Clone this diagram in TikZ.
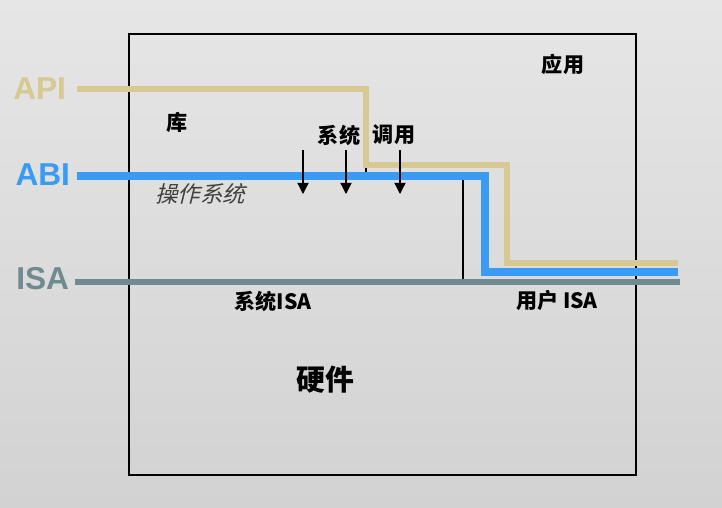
\documentclass[tikz,border=0pt]{standalone}
\usepackage{fontspec}
\setmainfont{Liberation Sans}
\newfontfamily\cjk{Noto Sans CJK SC}
\newfontfamily\cjkslant[FakeSlant=0.25]{Noto Sans CJK SC}
\usetikzlibrary{arrows.meta,positioning}
\definecolor{apicol}{HTML}{D8C892}
\definecolor{abicol}{HTML}{3A9BF5}
\definecolor{isacol}{HTML}{6F8A90}
\definecolor{bgtop}{HTML}{E6E6E6}
\definecolor{bgbot}{HTML}{D2D2D2}
\tikzset{
  layer/.style={font=\bfseries\fontsize{22.5}{22.5}\selectfont},
  zh/.style={font=\cjk\bfseries\fontsize{15}{15}\selectfont, inner sep=1pt},
  callarrow/.style={-{Triangle[length=8pt,width=8pt]}, line width=0.9pt},
}
\begin{document}
\begin{tikzpicture}[x=0.025cm, y=-0.025cm]
    % background
    \shade[top color=bgtop, bottom color=bgbot] (0,0) rectangle (722,507);
    \useasboundingbox (0,0) rectangle (722,507);

    % system box
    \draw[line width=0.9pt] (129,34) rectangle (636,475);

    % corner points of the layer lines
    \coordinate (apiS) at (77,89);
    \coordinate (apiA) at (366,89);
    \coordinate (apiB) at (366,165);
    \coordinate (apiC) at (507,165);
    \coordinate (apiD) at (507,263);
    \coordinate (apiE) at (678,263);
    \coordinate (abiS) at (77,176);
    \coordinate (abiA) at (485,176);
    \coordinate (abiB) at (485,272);
    \coordinate (abiE) at (678,272);
    \coordinate (isaS) at (75,282);
    \coordinate (isaE) at (680,282);

    % thin dividers
    \draw[line width=0.8pt] (366,86) -- (366,173);
    \draw[line width=0.8pt] (463,176) -- (463,282);

    % layer lines
    \draw[isacol, line width=4.5pt] (isaS) -- (isaE);
    \draw[apicol, line width=4.5pt] (apiS) -- (apiA) -- (apiB) -- (apiC) -- (apiD) -- (apiE);
    \draw[abicol, line width=5pt] (abiS) -- (abiA) -- (abiB) -- (abiE);

    % layer names
    \node[layer, text=apicol, anchor=east] (api) at (71,89) {API};
    \node[layer, text=abicol, anchor=east] (abi) at (75,175) {ABI};
    \node[layer, text=isacol, anchor=east] (isa) at (74,279) {ISA};

    % labels
    \node[zh] (lib) at (177,122) {库};
    \node[zh] (app) at (563,64) {应用};
    \node[zh] (sys) at (339,135) {系统};
    \node[zh] (call) at (394,135) {调用};
    \node[font=\cjkslant\fontsize{16}{16}\selectfont, text=black!75] (os) at (200,194) {操作系统};
    \node[zh] (sysisa) at (273,301) {系统ISA};
    \node[zh] (userisa) at (557,301) {用户 ISA};
    \node[font=\cjk\bfseries\fontsize{20.5}{20.5}\selectfont] (hw) at (325,380) {硬件};

    % system call arrows
    \coordinate (c1) at (303,150);
    \coordinate (c2) at (346,150);
    \coordinate (c3) at (400,150);
    \foreach \c in {c1,c2,c3}
        \draw[callarrow] (\c) -- ++(0,44);
\end{tikzpicture}
\end{document}
